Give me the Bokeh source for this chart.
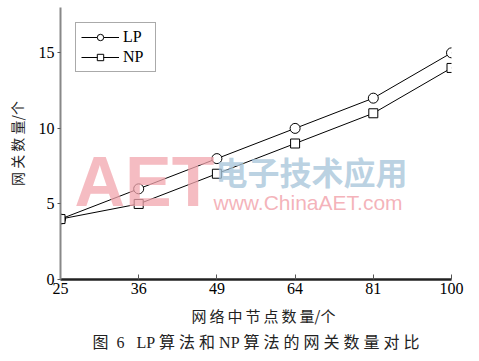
from bokeh.plotting import figure
from bokeh.models import Range1d, FixedTicker, Label, Title, Legend, LegendItem
from bokeh.embed import file_html
from bokeh.resources import INLINE

categories = ["25", "36", "49", "64", "81", "100"]
lp_values = [4, 6, 8, 10, 12, 15]
np_values = [4, 5, 7, 9, 11, 14]
y_ticks = [0, 5, 10, 15]

xs = list(range(len(categories)))
SERIF = "Liberation Serif, 'Times New Roman', 'Noto Sans CJK SC', serif"
CJK = "'Noto Sans CJK SC', sans-serif"
TS = "\u2009"
NB = "\u00a0"

p = figure(width=479, height=361, output_backend="svg", toolbar_location=None,
           x_range=Range1d(0, len(categories) - 1), y_range=Range1d(0, 18),
           min_border_left=60, min_border_right=28, min_border_top=7, min_border_bottom=82)
p.outline_line_color = None
p.grid.visible = False
p.background_fill_color = "white"
p.border_fill_color = "white"

# watermark (screen units relative to the plot frame)
wm = [
    dict(x=14, y=98, text="AET", text_font="Liberation Sans", text_font_size="70px",
         text_font_style="bold", text_color="#f2a6ae", text_alpha=0.75),
    dict(x=155, y=109, text="电子技术应用", text_font="Noto Sans CJK SC", text_font_size="32px",
         text_font_style="bold", text_color="#a9c6da", text_alpha=0.8),
    dict(x=153, y=77, text="www.ChinaAET.com", text_font="Liberation Sans", text_font_size="21px",
         text_font_style="normal", text_color="#f2a6ae", text_alpha=0.85),
]
for w in wm:
    p.add_layout(Label(x=w["x"], y=w["y"], x_units="screen", y_units="screen", text=w["text"],
                       text_font=w["text_font"], text_font_size=w["text_font_size"],
                       text_font_style=w["text_font_style"], text_color=w["text_color"],
                       text_alpha=w["text_alpha"], text_baseline="middle"))

l1 = p.line(xs, lp_values, line_color="black", line_width=1)
c1 = p.scatter(xs, lp_values, marker="circle", size=10, fill_color="white", line_color="black", line_width=1)
l2 = p.line(xs, np_values, line_color="black", line_width=1)
c2 = p.scatter(xs, np_values, marker="square", size=9, fill_color="white", line_color="black", line_width=1)

legend = Legend(items=[LegendItem(label="LP", renderers=[l1, c1]),
                       LegendItem(label="NP", renderers=[l2, c2])],
                location=(15, 207), orientation="vertical")
legend.label_text_font = SERIF
legend.label_text_font_size = "16px"
legend.label_text_color = "black"
legend.glyph_width = 38
legend.glyph_height = 16
legend.label_height = 16
legend.label_width = 27
legend.label_standoff = 4
legend.spacing = 2
legend.padding = 5
legend.margin = 0
legend.border_line_color = "#555555"
legend.border_line_width = 1.5
legend.background_fill_alpha = 1
p.add_layout(legend)

xa = p.xaxis[0]
xa.ticker = FixedTicker(ticks=xs)
xa.major_label_overrides = {i: c for i, c in enumerate(categories)}
xa.axis_line_color = "#222222"
xa.axis_line_width = 2.5
xa.major_tick_in = 5
xa.major_tick_out = 0
xa.major_tick_line_color = "#555555"
xa.minor_tick_line_color = None
xa.major_label_text_font = SERIF
xa.major_label_text_font_size = "16px"
xa.major_label_text_color = "black"
xa.major_label_standoff = 3
xa.axis_label = "\u2003" + TS.join("网络中节点数量") + "/个"
xa.axis_label_text_font = CJK
xa.axis_label_text_font_size = "15px"
xa.axis_label_text_font_style = "normal"
xa.axis_label_text_color = "#222222"
xa.axis_label_standoff = 8

ya = p.yaxis[0]
ya.ticker = FixedTicker(ticks=y_ticks)
ya.axis_line_color = "#888888"
ya.axis_line_width = 2
ya.major_tick_in = 0
ya.major_tick_out = 3
ya.major_tick_line_color = "#555555"
ya.minor_tick_line_color = None
ya.major_label_text_font = SERIF
ya.major_label_text_font_size = "16px"
ya.major_label_text_color = "black"
ya.major_label_standoff = 3
ya.axis_label = "网 关 数 量/个"
ya.axis_label_text_font = CJK
ya.axis_label_text_font_size = "14px"
ya.axis_label_text_font_style = "normal"
ya.axis_label_text_color = "#222222"
ya.axis_label_standoff = 9

caption_text = "图" + NB + NB + "6" + NB * 3 + "LP" + NB + "算 法 和" + NB + "NP" + NB + "算 法 的 网 关 数 量 对 比"
cap = Title(text=caption_text, align="center",
            text_font=SERIF, text_font_size="16px", text_font_style="normal",
            text_color="#222222", offset=0, standoff=7)
p.add_layout(cap, "below")

open("out.html", "w").write(file_html(p, INLINE))
